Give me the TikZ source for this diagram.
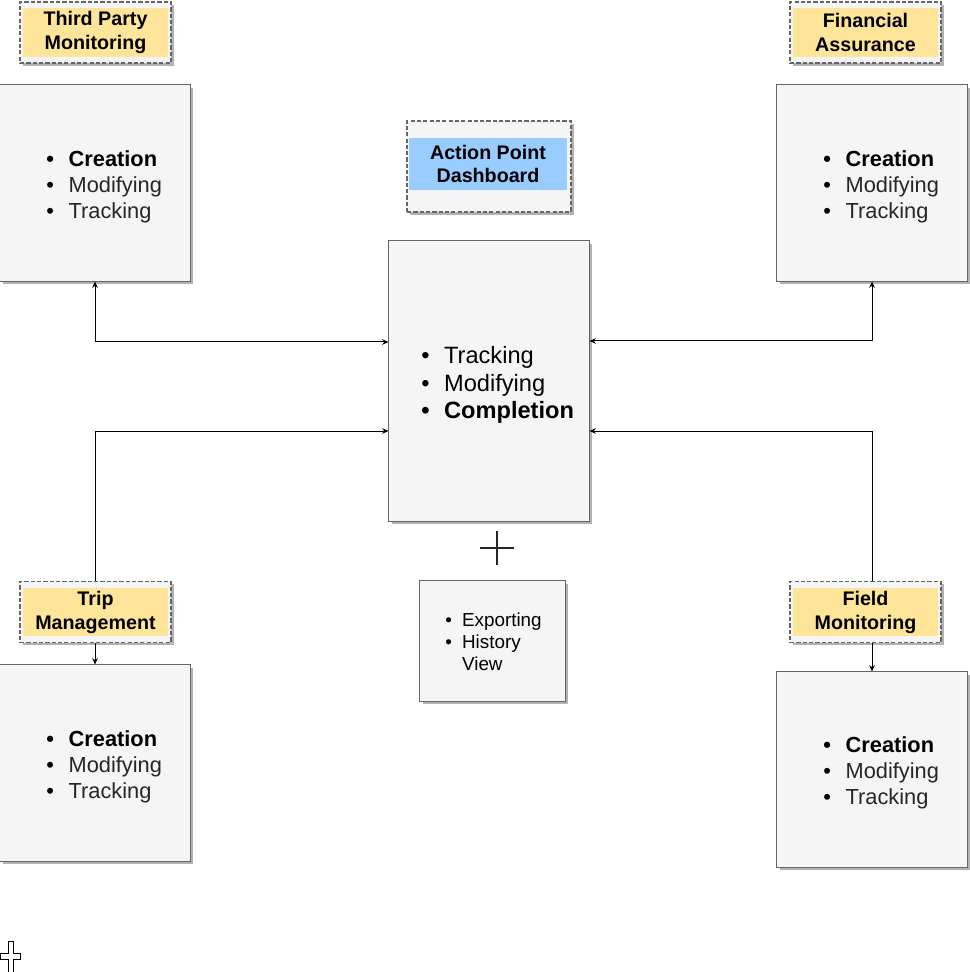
\documentclass[tikz,border=0pt]{standalone}
\usepackage{fontspec}
\setmainfont{Liberation Sans}
\usetikzlibrary{shadows,arrows.meta}
\definecolor{panelfill}{HTML}{F5F5F5}
\definecolor{lineg}{HTML}{666666}
\definecolor{tagyellow}{HTML}{FFE599}
\definecolor{tagblue}{HTML}{99CCFF}
\definecolor{txtg}{HTML}{262626}
\newcommand{\itm}[2][0.56cm]{\makebox[#1][l]{\textcolor{black}{\textbullet}}#2}
\tikzset{
  shade/.style={drop shadow={shadow xshift=2pt,shadow yshift=-2pt,fill=black!30,opacity=1}},
  panel/.style={draw=lineg,fill=panelfill,shade,inner sep=0pt,line width=0.7pt},
  frame/.style={draw=lineg,fill=panelfill,shade,dash pattern=on 3pt off 1.5pt,line width=0.8pt,inner sep=0pt},
  tagtext/.style={fill=tagyellow,inner sep=0pt,minimum width=3.625cm,minimum height=1.2cm,align=center,
    font=\fontsize{14}{17}\selectfont\bfseries},
  listtext/.style={anchor=west,inner sep=0pt,align=left,text=txtg,font=\fontsize{15.5}{18.4}\selectfont},
  link/.style={line width=0.7pt,>={Stealth[length=4.5pt,width=4pt]}}
}
\begin{document}
\begin{tikzpicture}[x=0.025cm,y=-0.025cm]
\useasboundingbox (0,0) rectangle (970,972);
% tags
\node[frame,minimum width=3.775cm,minimum height=1.525cm] (tpmtag) at (95.5,32.5) {};
\node[tagtext] (tpmlabel) at (tpmtag) {Third Party\\Monitoring};
\node[frame,minimum width=3.775cm,minimum height=1.525cm] (fatag) at (865.5,32.5) {};
\node[tagtext] (falabel) at (fatag) {Financial\\Assurance};
\node[frame,minimum width=3.775cm,minimum height=1.525cm] (tmtag) at (95.5,612) {};
\node[tagtext] (tmlabel) at (tmtag) {Trip\\Management};
\node[frame,minimum width=3.775cm,minimum height=1.525cm] (fmtag) at (865.5,612) {};
\node[tagtext] (fmlabel) at (fmtag) {Field\\Monitoring};
\node[frame,minimum width=4.1cm,minimum height=2.275cm] (aptag) at (489,166.5) {};
\node[tagtext,fill=tagblue,minimum width=3.95cm,minimum height=1.3cm] (aplabel) at (488,164) {Action Point\\Dashboard};
% side panels
\node[panel,minimum width=4.75cm,minimum height=4.9cm] (tpmbox) at (95,183) {};
\node[listtext] (tpmlist) at (46,187) {\textcolor{black}{\bfseries\itm{Creation}}\\\itm{Modifying}\\\itm{Tracking}};
\node[panel,minimum width=4.75cm,minimum height=4.9cm] (fabox) at (872,183) {};
\node[listtext] (falist) at (823,187) {\textcolor{black}{\bfseries\itm{Creation}}\\\itm{Modifying}\\\itm{Tracking}};
\node[panel,minimum width=4.75cm,minimum height=4.9cm] (tmbox) at (95,763) {};
\node[listtext] (tmlist) at (46,767) {\textcolor{black}{\bfseries\itm{Creation}}\\\itm{Modifying}\\\itm{Tracking}};
\node[panel,minimum width=4.75cm,minimum height=4.875cm] (fmbox) at (872,769.5) {};
\node[listtext] (fmlist) at (823,773) {\textcolor{black}{\bfseries\itm{Creation}}\\\itm{Modifying}\\\itm{Tracking}};
% dashboard
\node[panel,minimum width=5cm,minimum height=7cm] (dash) at (489,381) {};
\node[listtext,text=black,font=\fontsize{16.8}{19.8}\selectfont] (dashlist) at (421,385)
  {\itm[0.57cm]{Tracking}\\\itm[0.57cm]{Modifying}\\\bfseries\itm[0.57cm]{Completion}};
\node[panel,minimum width=3.625cm,minimum height=3cm] (extra) at (492.5,641) {};
\node[listtext,text=black,font=\fontsize{13.4}{15.6}\selectfont] (extralist) at (445,642)
  {\itm[0.42cm]{Exporting}\\\itm[0.42cm]{History}\\\hspace*{0.42cm}View};
\draw[line width=1.4pt,txtg] (480,548) -- (514,548) (497,531) -- (497,565); % plus
% connectors
\draw[link,<->] (tpmbox.south) |- ([yshift=0.975cm]dash.west);
\draw[link,<->] (fabox.south) |- ([yshift=1cm]dash.east);
\draw[link,->] (tmtag.north -| tmbox.north) |- ([yshift=-1.25cm]dash.west);
\draw[link,->] (fmtag.north -| fmbox.north) |- ([yshift=-1.25cm]dash.east);
\draw[link,->] (tmtag.south -| tmbox.north) -- (tmbox.north);
\draw[link,->] (fmtag.south -| fmbox.north) -- (fmbox.north);
% cursor
\draw[fill=white,line width=0.7pt] (8,941) -- (13,941) -- (13,953) -- (20,953) -- (20,959) -- (13,959)
  -- (13,972) -- (8,972) -- (8,959) -- (0.5,959) -- (0.5,953) -- (8,953) -- cycle;
\end{tikzpicture}
\end{document}
